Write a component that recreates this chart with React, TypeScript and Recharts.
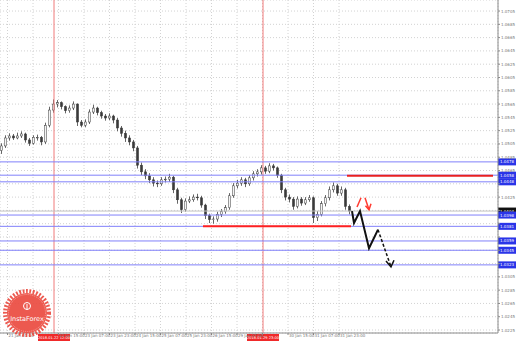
import React from 'react'
import { Bar, CartesianGrid, ComposedChart, Line, ReferenceLine, XAxis, YAxis } from 'recharts'

// hourly candles
const opens = [
  1.0495, 1.0502, 1.0514, 1.0517, 1.0514, 1.0517, 1.052, 1.0511, 1.0506, 1.0515,
  1.0515, 1.0508, 1.0533, 1.0556, 1.0565, 1.0567, 1.0561, 1.0555, 1.0559, 1.0565,
  1.0538, 1.0533, 1.0538, 1.0553, 1.0559, 1.0552, 1.0547, 1.0544, 1.0547, 1.0541,
  1.0529, 1.0521, 1.0514, 1.0508, 1.0499, 1.0473, 1.0463, 1.0457, 1.0451, 1.0446,
  1.0445, 1.0451, 1.0452, 1.0455, 1.0436, 1.0421, 1.0406, 1.0419, 1.0421, 1.0425,
  1.0424, 1.0413, 1.0397, 1.0391, 1.0392, 1.0399, 1.0403, 1.0409, 1.0427, 1.0442,
  1.0446, 1.0451, 1.0445, 1.0454, 1.046, 1.0463, 1.0469, 1.0464, 1.0472, 1.0469,
  1.0458, 1.0436, 1.0425, 1.0422, 1.0411, 1.0422, 1.0416, 1.0421, 1.0424, 1.0394,
  1.0399, 1.0415, 1.0424, 1.0436, 1.0442, 1.0431, 1.0436, 1.0411,
]
const highs = [
  1.0506, 1.0518, 1.0521, 1.052, 1.0522, 1.0524, 1.0522, 1.0514, 1.0518, 1.0519,
  1.0517, 1.0537, 1.0561, 1.0572, 1.0571, 1.0569, 1.0563, 1.0563, 1.0569, 1.0566,
  1.0541, 1.0542, 1.0557, 1.0564, 1.0561, 1.0555, 1.055, 1.0551, 1.0549, 1.0544,
  1.0532, 1.0525, 1.0518, 1.0511, 1.0502, 1.0477, 1.0467, 1.0461, 1.0455, 1.045,
  1.0455, 1.0456, 1.046, 1.0457, 1.0439, 1.0424, 1.0423, 1.0426, 1.0429, 1.043,
  1.0427, 1.0415, 1.04, 1.0396, 1.0403, 1.0407, 1.0413, 1.0431, 1.0446, 1.0451,
  1.0455, 1.0454, 1.0458, 1.0464, 1.0467, 1.0473, 1.0472, 1.0476, 1.0475, 1.0471,
  1.046, 1.0439, 1.0429, 1.0425, 1.0426, 1.0425, 1.0425, 1.0428, 1.0426, 1.0404,
  1.0419, 1.0428, 1.0441, 1.0447, 1.0445, 1.0441, 1.0439, 1.0414,
]
const lows = [
  1.049, 1.0499, 1.051, 1.0511, 1.0512, 1.0514, 1.0507, 1.0502, 1.0504, 1.051,
  1.0503, 1.0505, 1.053, 1.0552, 1.056, 1.0557, 1.0551, 1.0552, 1.0556, 1.0532,
  1.053, 1.053, 1.0535, 1.055, 1.0548, 1.0543, 1.054, 1.0541, 1.0536, 1.0524,
  1.0516, 1.0508, 1.0503, 1.0494, 1.0468, 1.0458, 1.0452, 1.0446, 1.0441, 1.044,
  1.0442, 1.0447, 1.0448, 1.0431, 1.0415, 1.0401, 1.0403, 1.0416, 1.0418, 1.042,
  1.0409, 1.0392, 1.0386, 1.0385, 1.0388, 1.0395, 1.04, 1.0406, 1.0424, 1.0438,
  1.0442, 1.044, 1.0442, 1.045, 1.0456, 1.0459, 1.046, 1.0461, 1.0465, 1.0454,
  1.0431, 1.042, 1.0417, 1.0406, 1.0408, 1.0412, 1.0413, 1.0418, 1.0386, 1.0389,
  1.0396, 1.0411, 1.042, 1.0432, 1.0427, 1.0427, 1.0406, 1.0399,
]
const closes = [
  1.0502, 1.0514, 1.0517, 1.0514, 1.0517, 1.052, 1.0511, 1.0506, 1.0515, 1.0515,
  1.0508, 1.0533, 1.0556, 1.0565, 1.0567, 1.0561, 1.0555, 1.0559, 1.0565, 1.0538,
  1.0533, 1.0538, 1.0553, 1.0559, 1.0552, 1.0547, 1.0544, 1.0547, 1.0541, 1.0529,
  1.0521, 1.0514, 1.0508, 1.0499, 1.0473, 1.0463, 1.0457, 1.0451, 1.0446, 1.0445,
  1.0451, 1.0452, 1.0455, 1.0436, 1.0421, 1.0406, 1.0419, 1.0421, 1.0425, 1.0424,
  1.0413, 1.0397, 1.0391, 1.0392, 1.0399, 1.0403, 1.0409, 1.0427, 1.0442, 1.0446,
  1.0451, 1.0445, 1.0454, 1.046, 1.0463, 1.0469, 1.0464, 1.0472, 1.0469, 1.0458,
  1.0436, 1.0425, 1.0422, 1.0411, 1.0422, 1.0416, 1.0421, 1.0424, 1.0394, 1.0399,
  1.0415, 1.0424, 1.0436, 1.0442, 1.0431, 1.0436, 1.0411, 1.0404,
]

const timeTicks = [1.375, 7.75, 14.125, 20.5, 26.875, 33.25, 39.625, 46, 52.375, 58.75, 65.125, 71.5, 77.875, 84.25]
const timeLabels = [
  '21 Jan 07:00', '21 Jan 23:00', '22 Jan 15:00', '23 Jan 07:00', '23 Jan 23:00', '24 Jan 15:00', '25 Jan 07:00',
  '25 Jan 23:00', '26 Jan 15:00', '29 Jan 07:00', '29 Jan 23:00', '30 Jan 15:00', '31 Jan 07:00', '31 Jan 23:00',
]
const priceTicks = [
  1.0705, 1.0685, 1.0665, 1.0645, 1.0625, 1.0605, 1.0585, 1.0565, 1.0545, 1.0525, 1.0505, 1.0485, 1.0465,
  1.0445, 1.0425, 1.0405, 1.0385, 1.0365, 1.0345, 1.0325, 1.0305, 1.0285, 1.0265, 1.0245, 1.0225,
]
const blueLevels = [1.0478, 1.0458, 1.0448, 1.0398, 1.0381, 1.0359, 1.0345, 1.0323]
const currentPrice = 1.0404
const markedTimes = [13, 65.25]
const markedLabels = ['2018.01.22 12:00', '2018.01.29 23:00']

const resistance = [{ x: 86.25, y: 1.0457 }, { x: 122.75, y: 1.0457 }]
const support = [{ x: 50.25, y: 1.0381 }, { x: 87.25, y: 1.0381 }]
const forecastSolid = [
  { x: 87.5, y: 1.0404 }, { x: 88, y: 1.0386 }, { x: 89.5, y: 1.0404 }, { x: 91.75, y: 1.0348 }, { x: 94, y: 1.0376 },
]
const forecastDashed = [{ x: 94, y: 1.0376 }, { x: 97.25, y: 1.032 }]
const forecastHead = [{ x: 96, y: 1.0329 }, { x: 97.25, y: 1.032 }, { x: 98, y: 1.033 }]
const redUp = [{ x: 88.75, y: 1.041 }, { x: 89.75, y: 1.0424 }]
const redDown = [{ x: 90.75, y: 1.0424 }, { x: 91.75, y: 1.0406 }]
const redDownHead = [{ x: 90.875, y: 1.0412 }, { x: 91.75, y: 1.0406 }, { x: 92.25, y: 1.0415 }]

const candles = opens.map((o, i) => ({ i, o, h: highs[i], l: lows[i], c: closes[i] }))

const FONT = 'DejaVu Sans'
const INK = '#3a3a3a'

function Candle(props: any) {
  const { x, y, width, height, payload } = props
  if (x == null || !payload) return null
  const { o, h, l, c } = payload
  const span = h - l || 1e-9
  const py = (p: number) => y + ((h - p) / span) * height
  const cx = x + width / 2
  const top = py(Math.max(o, c))
  const bot = py(Math.min(o, c))
  return (
    <g>
      <line x1={cx} x2={cx} y1={y} y2={y + height} stroke="#555" strokeWidth={0.9} />
      <rect
        x={cx - 1.1}
        y={top}
        width={2.2}
        height={Math.max(bot - top, 0.7)}
        fill={c >= o ? '#f4f4f4' : INK}
        stroke={INK}
        strokeWidth={0.5}
      />
    </g>
  )
}

// labels that sit fully under the red time boxes are not visible in the source
const coveredTicks = [7.75, 65.125]

function TimeTick({ x, y, payload }: any) {
  if (coveredTicks.includes(payload.value)) return <g />
  const label = timeLabels[timeTicks.indexOf(payload.value)]
  return (
    <text x={x + 1} y={y + 2} fontSize={4} fill="#777" fontFamily={FONT} textAnchor="start">
      {label}
    </text>
  )
}

function PriceTick({ x, y, payload }: any) {
  const v = payload.value as number
  const hidden = [...blueLevels, currentPrice].some((m) => Math.abs(m - v) < 0.0006)
  if (hidden) return <g />
  return (
    <text x={x} y={y + 1.5} fontSize={4} fill="#777" fontFamily={FONT}>
      {v.toFixed(4)}
    </text>
  )
}

const priceBox = (value: number, fill: string) => (props: any) => {
  const vb = props.viewBox
  if (!vb) return null
  const right = vb.x + vb.width
  return (
    <g>
      <rect x={right} y={vb.y - 3.5} width={18} height={7} fill={fill} />
      <text x={right + 2} y={vb.y + 1.5} fontSize={4} fill="#fff" fontFamily={FONT}>
        {value.toFixed(4)}
      </text>
    </g>
  )
}

const timeBox = (text: string) => (props: any) => {
  const vb = props.viewBox
  if (!vb) return null
  const bottom = vb.y + vb.height
  return (
    <g>
      <rect x={vb.x - 16} y={bottom + 1} width={32} height={7} fill="#f02a2a" />
      <text x={vb.x} y={bottom + 6} fontSize={3.6} fill="#fff" fontFamily={FONT} textAnchor="middle">
        {text}
      </text>
    </g>
  )
}

function Badge() {
  return (
    <svg width={519} height={342} style={{ position: 'absolute', left: 0, top: 0, pointerEvents: 'none' }}>
      <circle cx={27} cy={313} r={20} fill="#ea4b40" opacity={0.92} />
      <circle cx={27} cy={313} r={22} fill="none" stroke="#ea4b40" strokeWidth={4} strokeDasharray="1.8 1.6" opacity={0.92} />
      <circle cx={27} cy={313} r={18.5} fill="none" stroke="#ffd0cc" strokeWidth={0.5} strokeDasharray="1 1" />
      <circle cx={27} cy={306} r={3.5} fill="none" stroke="#fff" strokeWidth={1} />
      <line x1={27} x2={27} y1={304} y2={310} stroke="#fff" strokeWidth={1} />
      <text x={27} y={321} fontSize={6.5} fill="#fff" fontFamily={FONT} textAnchor="middle">
        InstaForex
      </text>
    </svg>
  )
}

const lineProps = { xAxisId: 'f', dataKey: 'y', dot: false, activeDot: false, isAnimationActive: false } as const

export default function App() {
  return (
    <div style={{ position: 'absolute', left: 0, top: 0, width: 519, height: 342, background: '#fff' }}>
      <ComposedChart width={519} height={342} data={candles} margin={{ top: 0, right: 0, bottom: 0, left: 0 }}>
        <CartesianGrid xAxisId="c" stroke="#d2d2d2" strokeDasharray="1 2" />
        <XAxis
          xAxisId="c"
          dataKey="i"
          type="number"
          domain={[-0.5, 124]}
          allowDataOverflow
          ticks={timeTicks}
          interval={0}
          height={9}
          tick={<TimeTick />}
          tickSize={2}
          tickMargin={0}
          axisLine={{ stroke: '#8a8a8a' }}
          tickLine={{ stroke: '#8a8a8a' }}
        />
        <XAxis xAxisId="f" dataKey="x" type="number" domain={[-0.5, 124]} allowDataOverflow hide />
        <YAxis
          orientation="right"
          width={21}
          domain={[1.02205, 1.07216]}
          allowDataOverflow
          ticks={priceTicks}
          interval={0}
          tick={<PriceTick />}
          tickSize={2}
          tickMargin={1}
          axisLine={{ stroke: '#8a8a8a' }}
          tickLine={{ stroke: '#8a8a8a' }}
        />
        {markedTimes.map((t, k) => (
          <ReferenceLine key={`v${k}`} xAxisId="c" x={t} stroke="#f07a7a" strokeWidth={1} label={timeBox(markedLabels[k])} />
        ))}
        <ReferenceLine xAxisId="c" y={currentPrice} stroke="#c4c4c4" strokeWidth={1} label={priceBox(currentPrice, '#111')} />
        {blueLevels.map((lv) => (
          <ReferenceLine key={lv} xAxisId="c" y={lv} stroke="#8080fa" strokeWidth={1} label={priceBox(lv, '#2a35e8')} />
        ))}
        <Bar
          xAxisId="c"
          dataKey={(d: any) => [d.l, d.h]}
          barSize={3}
          shape={<Candle />}
          activeBar={false}
          isAnimationActive={false}
        />
        <Line {...lineProps} data={support} stroke="#ff2020" strokeWidth={2} />
        <Line {...lineProps} data={resistance} stroke="#e82020" strokeWidth={2} />
        <Line {...lineProps} data={forecastSolid} stroke="#111" strokeWidth={2} />
        <Line {...lineProps} data={forecastDashed} stroke="#111" strokeWidth={1.5} strokeDasharray="3 2" />
        <Line {...lineProps} data={forecastHead} stroke="#111" strokeWidth={1.5} />
        <Line {...lineProps} data={redUp} stroke="#ff3b30" strokeWidth={1.5} />
        <Line {...lineProps} data={redDown} stroke="#ff3b30" strokeWidth={1.5} />
        <Line {...lineProps} data={redDownHead} stroke="#ff3b30" strokeWidth={1.5} />
      </ComposedChart>
      <Badge />
    </div>
  )
}
